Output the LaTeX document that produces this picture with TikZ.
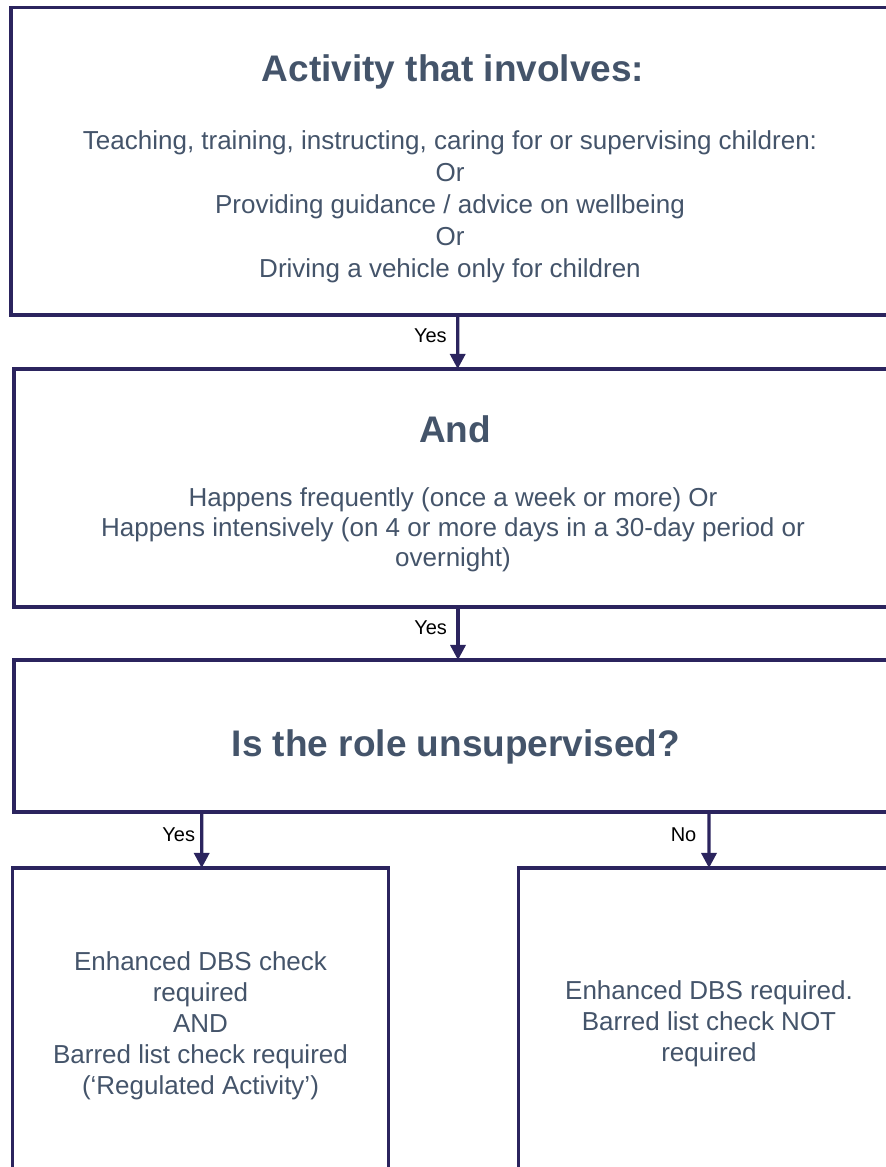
\documentclass[tikz,border=0pt]{standalone}
\usepackage{fontspec}
\setmainfont{Liberation Sans}
\usepackage{tikz}
\usetikzlibrary{arrows.meta}
\definecolor{BoxLine}{RGB}{43,36,94}
\definecolor{BoxText}{RGB}{68,84,106}

\begin{document}
\begin{tikzpicture}[x=1bp, y=1bp,
	box/.style={draw=BoxLine, line width=3.3bp, inner sep=0pt, outer sep=0pt},
	head/.style={text=BoxText, font=\fontsize{37bp}{44bp}\selectfont\bfseries, anchor=north, inner sep=0pt},
	body/.style={text=BoxText, font=\fontsize{26bp}{#1}\selectfont, align=center, anchor=north, inner sep=0pt},
	flow/.style={BoxLine, line width=3.3bp, -{Triangle[width=15bp,length=15bp]}},
	lab/.style={text=black, font=\fontsize{20bp}{24bp}\selectfont, inner sep=0pt}]
	\useasboundingbox (0,0) rectangle (886,1167);

	% boxes
	\node[box, minimum width=878bp, minimum height=307.5bp] (act) at (450,1005.75) {};
	\node[box, minimum width=878bp, minimum height=238bp] (freq) at (453,679) {};
	\node[box, minimum width=878bp, minimum height=152bp] (unsup) at (453,431) {};
	\node[box, minimum width=376.3bp, minimum height=312bp] (reg) at (200.55,143) {};
	\node[box, minimum width=381.4bp, minimum height=312bp] (nonreg) at (709.3,143) {};

	% texts
	\node[head] (actHead) at (453,1112) {Activity that involves:};
	\node[body=32bp] (actBody) at (450,1037) {Teaching, training, instructing, caring for or supervising children:\\Or\\Providing guidance / advice on wellbeing\\Or\\Driving a vehicle only for children};
	\node[head] (freqHead) at (455,752) {And};
	\node[body=30bp] (freqBody) at (453,679.5) {Happens frequently (once a week or more) Or\\Happens intensively (on 4 or more days in a 30-day period or\\overnight)};
	\node[head] (unsupHead) at (456,438) {Is the role unsupervised?};
	\node[body=31bp] (regBody) at (200.5,215.5) {Enhanced DBS check\\required\\AND\\Barred list check required\\(‘Regulated Activity’)};
	\node[body=31bp] (nonregBody) at (709,186.5) {Enhanced DBS required.\\Barred list check NOT\\required};

	% arrows
	\draw[flow] ([xshift=7.7bp]act.south) -- ([xshift=4.7bp]freq.north) node[lab, pos=0.39, left=9.4bp] (yesA) {Yes};
	\draw[flow] ([xshift=5bp]freq.south) -- ([xshift=5bp]unsup.north) node[lab, pos=0.39, left=9.4bp] (yesB) {Yes};
	\draw[flow] ([xshift=-251.3bp]unsup.south) -- ([xshift=1.15bp]reg.north) node[lab, pos=0.41, left=5bp] (yesC) {Yes};
	\draw[flow] ([xshift=256bp]unsup.south) -- ([xshift=-0.3bp]nonreg.north) node[lab, pos=0.41, left=11bp] (noC) {No};
\end{tikzpicture}
\end{document}
